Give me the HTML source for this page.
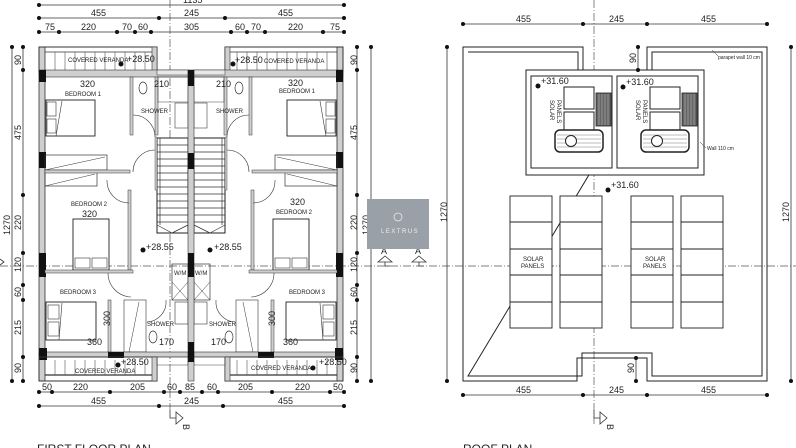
<!DOCTYPE html>
<html><head><meta charset="utf-8"><style>
html,body{margin:0;padding:0;background:#fff;width:796px;height:448px;overflow:hidden}
svg{display:block}
text{font-family:"Liberation Sans",sans-serif;fill:#222}
.d{font-size:9px}
.s{font-size:6px;fill:#3a4a8a}
</style></head><body>
<svg width="796" height="448" viewBox="0 0 796 448" xmlns="http://www.w3.org/2000/svg">
<defs>
<g id="half">
  <!-- outer wall -->
  <rect x="39" y="47" width="6" height="334" fill="#cfcfcf" stroke="#333" stroke-width="0.8"/>
  <!-- top veranda -->
  <rect x="39" y="47" width="118" height="25" fill="none" stroke="#333" stroke-width="1"/>
  <rect x="152" y="47" width="5" height="25" fill="#cfcfcf" stroke="#333" stroke-width="0.6"/>
  <line x1="45" y1="52" x2="152" y2="52" stroke="#333" stroke-width="0.8"/>
  <g stroke="#555" stroke-width="0.6">
    <line x1="55" y1="52" x2="55" y2="70"/><line x1="65" y1="52" x2="65" y2="70"/><line x1="75" y1="52" x2="75" y2="70"/><line x1="85" y1="52" x2="85" y2="70"/><line x1="95" y1="52" x2="95" y2="70"/><line x1="105" y1="52" x2="105" y2="70"/><line x1="115" y1="52" x2="115" y2="70"/><line x1="125" y1="52" x2="125" y2="70"/><line x1="135" y1="52" x2="135" y2="70"/><line x1="145" y1="52" x2="145" y2="70"/>
  </g>
  <!-- wall under veranda -->
  <rect x="39" y="70" width="149" height="7" fill="#cfcfcf" stroke="#333" stroke-width="0.6"/>
  <rect x="39" y="70" width="7" height="12" fill="#111"/>
  <rect x="157" y="70" width="31" height="5" fill="#e8e8e8" stroke="#333" stroke-width="0.5"/>
  <!-- shower/wc -->
  <rect x="130" y="77" width="3" height="58" fill="#cfcfcf" stroke="#333" stroke-width="0.5"/>
  <rect x="155" y="77" width="3" height="58" fill="#cfcfcf" stroke="#333" stroke-width="0.5"/>
  <ellipse cx="143" cy="88" rx="4" ry="6" fill="#fff" stroke="#333" stroke-width="0.7"/>
  <rect x="158" y="77" width="30" height="25" fill="none" stroke="#444" stroke-width="0.5"/>
  <rect x="175" y="103" width="13" height="25" fill="none" stroke="#444" stroke-width="0.6"/>
  <path d="M133 115 A22 22 0 0 1 155 137" fill="none" stroke="#333" stroke-width="0.6"/>
  <!-- bed 1 -->
  <rect x="46" y="100" width="49" height="36" fill="#fff" stroke="#222" stroke-width="0.9"/>
  <rect x="47" y="102" width="9" height="14" fill="none" stroke="#333" stroke-width="0.6"/>
  <rect x="47" y="119" width="9" height="14" fill="none" stroke="#333" stroke-width="0.6"/>
  <line x1="56" y1="136" x2="62" y2="101" stroke="#333" stroke-width="0.6"/>
  <!-- stairs -->
  <rect x="157" y="138" width="31" height="95" fill="#fff" stroke="#222" stroke-width="1"/>
  <g stroke="#333" stroke-width="0.7">
    <line x1="157" y1="145" x2="188" y2="145"/><line x1="157" y1="152" x2="188" y2="152"/><line x1="157" y1="159" x2="188" y2="159"/><line x1="157" y1="166" x2="188" y2="166"/><line x1="157" y1="173" x2="188" y2="173"/><line x1="157" y1="180" x2="188" y2="180"/><line x1="157" y1="187" x2="188" y2="187"/><line x1="157" y1="194" x2="188" y2="194"/><line x1="157" y1="201" x2="188" y2="201"/><line x1="157" y1="208" x2="188" y2="208"/><line x1="157" y1="215" x2="188" y2="215"/><line x1="157" y1="222" x2="188" y2="222"/>
    <line x1="160" y1="138" x2="160" y2="225"/><line x1="157" y1="225" x2="172" y2="233"/><line x1="172" y1="233" x2="188" y2="225"/>
  </g>
  <path d="M155 150 A22 22 0 0 0 133 172" fill="none" stroke="#333" stroke-width="0.6"/>
  <rect x="155" y="137" width="2" height="53" fill="#cfcfcf" stroke="#333" stroke-width="0.4"/>
  <!-- wardrobes -->
  <rect x="39" y="152" width="7" height="16" fill="#111"/>
  <rect x="45" y="155" width="62" height="15" fill="none" stroke="#333" stroke-width="0.7"/>
  <rect x="45" y="172" width="52" height="14" fill="none" stroke="#333" stroke-width="0.7"/>
  <line x1="45" y1="170" x2="105" y2="157" stroke="#333" stroke-width="0.5"/>
  <line x1="45" y1="186" x2="95" y2="174" stroke="#333" stroke-width="0.5"/>
  <rect x="45" y="170" width="85" height="3" fill="#cfcfcf" stroke="#333" stroke-width="0.5"/>
  <rect x="128" y="190" width="3" height="80" fill="#cfcfcf" stroke="#333" stroke-width="0.5"/>
  <path d="M107 180 A22 22 0 0 0 129 203" fill="none" stroke="#333" stroke-width="0.6"/>
  <!-- bed 2 -->
  <rect x="73" y="219" width="36" height="51" fill="#fff" stroke="#222" stroke-width="0.9"/>
  <rect x="75" y="258" width="15" height="10" fill="none" stroke="#333" stroke-width="0.6"/>
  <rect x="92" y="258" width="15" height="10" fill="none" stroke="#333" stroke-width="0.6"/>
  <line x1="39" y1="218" x2="39" y2="218"/>
  <rect x="39" y="253" width="7" height="24" fill="#111"/>
  <rect x="45" y="270" width="88" height="3" fill="#cfcfcf" stroke="#333" stroke-width="0.5"/>
  <path d="M108 273 A24 24 0 0 0 131 297" fill="none" stroke="#333" stroke-width="0.6"/>
  <!-- WM block -->
  <rect x="172" y="264" width="16" height="36" fill="none" stroke="#333" stroke-width="0.7"/>
  <line x1="172" y1="282" x2="188" y2="300" stroke="#333" stroke-width="0.5"/>
  <line x1="172" y1="300" x2="188" y2="282" stroke="#333" stroke-width="0.5"/>
  <rect x="175" y="302" width="13" height="22" fill="none" stroke="#333" stroke-width="0.6"/>
  <!-- bedroom 3 -->
  <rect x="108" y="300" width="3" height="52" fill="#cfcfcf" stroke="#333" stroke-width="0.5"/>
  <rect x="124" y="300" width="22" height="52" fill="none" stroke="#333" stroke-width="0.6"/>
  <line x1="129" y1="352" x2="139" y2="302" stroke="#333" stroke-width="0.5"/>
  <path d="M166 300 A20 20 0 0 1 147 322" fill="none" stroke="#333" stroke-width="0.6"/>
  <ellipse cx="153" cy="337" rx="4" ry="6" fill="#fff" stroke="#333" stroke-width="0.7"/>
  <rect x="46" y="302" width="50" height="38" fill="#fff" stroke="#222" stroke-width="0.9"/>
  <rect x="48" y="305" width="11" height="14" fill="none" stroke="#333" stroke-width="0.6"/>
  <rect x="48" y="322" width="11" height="14" fill="none" stroke="#333" stroke-width="0.6"/>
  <line x1="59" y1="340" x2="62" y2="303" stroke="#333" stroke-width="0.6"/>
  <!-- bottom wall + veranda -->
  <rect x="39" y="352" width="149" height="5" fill="#cfcfcf" stroke="#333" stroke-width="0.6"/>
  <rect x="39" y="348" width="8" height="12" fill="#111"/>
  <rect x="108" y="352" width="16" height="6" fill="#111"/>
  <rect x="39" y="357" width="118" height="24" fill="none" stroke="#333" stroke-width="1"/>
  <rect x="152" y="357" width="5" height="24" fill="#cfcfcf" stroke="#333" stroke-width="0.6"/>
  <line x1="45" y1="375" x2="152" y2="375" stroke="#333" stroke-width="1.2"/>
  <g stroke="#555" stroke-width="0.6">
    <line x1="55" y1="360" x2="55" y2="375"/><line x1="65" y1="360" x2="65" y2="375"/><line x1="75" y1="360" x2="75" y2="375"/><line x1="85" y1="360" x2="85" y2="375"/><line x1="95" y1="360" x2="95" y2="375"/><line x1="105" y1="360" x2="105" y2="375"/><line x1="115" y1="360" x2="115" y2="375"/><line x1="125" y1="360" x2="125" y2="375"/><line x1="135" y1="360" x2="135" y2="375"/><line x1="145" y1="360" x2="145" y2="375"/>
  </g>
  <rect x="157" y="357" width="31" height="8" fill="none" stroke="#444" stroke-width="0.5"/>
</g>
<g id="sol">
  <rect x="564" y="87" width="30" height="22" fill="#fff" stroke="#222" stroke-width="1"/>
  <rect x="564" y="112" width="30" height="19" fill="#fff" stroke="#222" stroke-width="1"/>
  <rect x="596" y="93" width="15" height="33" fill="#666" stroke="#222" stroke-width="0.8"/>
  <g stroke="#ddd" stroke-width="0.4"><line x1="599" y1="94" x2="599" y2="125"/><line x1="602" y1="94" x2="602" y2="125"/><line x1="605" y1="94" x2="605" y2="125"/><line x1="608" y1="94" x2="608" y2="125"/></g>
  <rect x="555" y="130" width="48" height="22" rx="5" fill="#fff" stroke="#222" stroke-width="1.5"/>
  <g stroke="#555" stroke-width="0.4"><line x1="557" y1="135" x2="601" y2="135"/><line x1="557" y1="139" x2="601" y2="139"/><line x1="557" y1="143" x2="601" y2="143"/><line x1="557" y1="147" x2="601" y2="147"/></g>
  <circle cx="571" cy="141" r="5.5" fill="#fff" stroke="#222" stroke-width="1"/>
</g>
</defs>

<!-- center lines -->
<line x1="0" y1="266" x2="796" y2="266" stroke="#555" stroke-width="0.7" stroke-dasharray="8 2 1 2"/>
<line x1="170" y1="0" x2="170" y2="410" stroke="#555" stroke-width="0.7" stroke-dasharray="8 2 1 2"/>
<line x1="594" y1="0" x2="594" y2="425" stroke="#555" stroke-width="0.7" stroke-dasharray="8 2 1 2"/>

<!-- FIRST FLOOR -->
<use href="#half"/>
<use href="#half" transform="translate(382 0) scale(-1 1)"/>
<rect x="188" y="70" width="6" height="311" fill="#cfcfcf" stroke="#333" stroke-width="0.6"/>
<rect x="188" y="70" width="6" height="16" fill="#111"/>
<rect x="188" y="153" width="6" height="16" fill="#111"/>
<rect x="188" y="253" width="6" height="24" fill="#111"/>
<rect x="188" y="342" width="6" height="20" fill="#111"/>

<!-- labels FF -->
<g class="s">
<text x="68" y="62">COVERED VERANDA</text><text x="264" y="63">COVERED VERANDA</text>
<text x="65" y="96">BEDROOM 1</text><text x="279" y="93">BEDROOM 1</text>
<text x="141" y="113">SHOWER</text><text x="216" y="113">SHOWER</text>
<text x="71" y="206">BEDROOM 2</text><text x="276" y="214">BEDROOM 2</text>
<text x="60" y="294">BEDROOM 3</text><text x="289" y="294">BEDROOM 3</text>
<text x="147" y="326">SHOWER</text><text x="209" y="326">SHOWER</text>
<text x="174" y="275">W/M</text><text x="195" y="275">W/M</text>
<text x="75" y="373">COVERED VERANDA</text><text x="251" y="370">COVERED VERANDA</text>
</g>
<g class="d">
<text x="80" y="87">320</text><text x="154" y="87">210</text><text x="216" y="87">210</text><text x="288" y="86">320</text>
<text x="82" y="217">320</text><text x="290" y="205">320</text>
<text x="87" y="345">360</text><text x="159" y="345">170</text><text x="211" y="345">170</text><text x="283" y="345">360</text>
<text x="127" y="62">+28.50</text><text x="235" y="63">+28.50</text>
<text x="146" y="250">+28.55</text><text x="214" y="250">+28.55</text>
<text x="121" y="365">+28.50</text><text x="319" y="365">+28.50</text>
<text x="101" y="317" transform="rotate(-90 110 317)">300</text>
<text x="266" y="317" transform="rotate(-90 275 317)">300</text>
</g>
<g fill="#111"><circle cx="121" cy="64" r="2.5"/><circle cx="233" cy="64" r="2.5"/><circle cx="143" cy="250" r="2.5"/><circle cx="210" cy="250" r="2.5"/><circle cx="118" cy="365" r="2.5"/><circle cx="313" cy="368" r="2.5"/></g>

<!-- FF dims top -->
<g stroke="#333" stroke-width="0.8">
<line x1="39" y1="5" x2="344" y2="5"/><line x1="39" y1="18" x2="344" y2="18"/><line x1="39" y1="32" x2="344" y2="32"/>
<line x1="39" y1="392" x2="344" y2="392"/><line x1="39" y1="406" x2="344" y2="406"/>
<line x1="12" y1="47" x2="12" y2="381"/><line x1="23" y1="47" x2="23" y2="381"/>
<line x1="357" y1="47" x2="357" y2="381"/><line x1="371" y1="47" x2="371" y2="381"/>
</g>
<g fill="#111">
<circle cx="39" cy="5" r="2"/><circle cx="344" cy="5" r="2"/>
<circle cx="39" cy="18" r="2"/><circle cx="159" cy="18" r="2"/><circle cx="225" cy="18" r="2"/><circle cx="344" cy="18" r="2"/>
<circle cx="39" cy="32" r="2"/><circle cx="59" cy="32" r="2"/><circle cx="117" cy="32" r="2"/><circle cx="135" cy="32" r="2"/><circle cx="151" cy="32" r="2"/><circle cx="231" cy="32" r="2"/><circle cx="247" cy="32" r="2"/><circle cx="265" cy="32" r="2"/><circle cx="323" cy="32" r="2"/><circle cx="344" cy="32" r="2"/>
<circle cx="39" cy="392" r="2"/><circle cx="52" cy="392" r="2"/><circle cx="110" cy="392" r="2"/><circle cx="164" cy="392" r="2"/><circle cx="180" cy="392" r="2"/><circle cx="202" cy="392" r="2"/><circle cx="218" cy="392" r="2"/><circle cx="272" cy="392" r="2"/><circle cx="330" cy="392" r="2"/><circle cx="344" cy="392" r="2"/>
<circle cx="39" cy="406" r="2"/><circle cx="159" cy="406" r="2"/><circle cx="223" cy="406" r="2"/><circle cx="344" cy="406" r="2"/>
<circle cx="12" cy="47" r="2"/><circle cx="12" cy="381" r="2"/><circle cx="23" cy="47" r="2"/><circle cx="23" cy="70" r="2"/><circle cx="23" cy="195" r="2"/><circle cx="23" cy="253" r="2"/><circle cx="23" cy="285" r="2"/><circle cx="23" cy="300" r="2"/><circle cx="23" cy="357" r="2"/><circle cx="23" cy="381" r="2"/>
<circle cx="357" cy="47" r="2"/><circle cx="357" cy="70" r="2"/><circle cx="357" cy="195" r="2"/><circle cx="357" cy="253" r="2"/><circle cx="357" cy="285" r="2"/><circle cx="357" cy="300" r="2"/><circle cx="357" cy="357" r="2"/><circle cx="357" cy="381" r="2"/>
<circle cx="371" cy="47" r="2"/><circle cx="371" cy="381" r="2"/>
</g>
<g class="d">
<text x="183" y="3">1135</text>
<text x="91" y="16">455</text><text x="184" y="16">245</text><text x="278" y="16">455</text>
<text x="45" y="30">75</text><text x="81" y="30">220</text><text x="122" y="30">70</text><text x="138" y="30">60</text><text x="184" y="30">305</text><text x="235" y="30">60</text><text x="251" y="30">70</text><text x="288" y="30">220</text><text x="330" y="30">75</text>
<text x="42" y="390">50</text><text x="73" y="390">220</text><text x="130" y="390">205</text><text x="167" y="390">60</text><text x="185" y="390">85</text><text x="207" y="390">60</text><text x="238" y="390">205</text><text x="295" y="390">220</text><text x="333" y="390">50</text>
<text x="91" y="404">455</text><text x="184" y="404">245</text><text x="278" y="404">455</text>
<g transform="rotate(-90)">
<text x="-235" y="10">1270</text><text x="-65" y="21">90</text><text x="-140" y="21">475</text><text x="-230" y="21">220</text><text x="-272" y="21">120</text><text x="-297" y="21">60</text><text x="-335" y="21">215</text><text x="-373" y="21">90</text>
<text x="-65" y="357">90</text><text x="-140" y="357">475</text><text x="-230" y="357">220</text><text x="-272" y="357">120</text><text x="-297" y="357">60</text><text x="-335" y="357">215</text><text x="-373" y="357">90</text><text x="-235" y="369">1270</text>
</g>
</g>
<!-- section markers -->
<path d="M170 410 L170 418 L176 418 L176 412 L183 418 L176 424 L176 418" fill="#fff" stroke="#333" stroke-width="0.8"/>
<text x="187" y="428" class="d" transform="rotate(90 187 424)">B</text>
<path d="M594 410 L594 418 L600 418 L600 412 L607 418 L600 424 L600 418" fill="#fff" stroke="#333" stroke-width="0.8"/>
<text x="611" y="428" class="d" transform="rotate(90 611 424)">B</text>
<path d="M378 262 L385 256 L392 262 Z M385 262 L385 266 L390 266" fill="#fff" stroke="#333" stroke-width="0.8"/>
<text x="381" y="254" class="d">A</text>
<path d="M412 262 L419 256 L426 262 Z M419 262 L419 266 L424 266" fill="#fff" stroke="#333" stroke-width="0.8"/>
<text x="415" y="254" class="d">A</text>
<path d="M0 259 L4 262 L0 265" fill="none" stroke="#333" stroke-width="0.8"/>

<text x="37" y="453" style="font-size:12px">FIRST FLOOR PLAN</text>
<text x="463" y="453" style="font-size:12px">ROOF PLAN</text>

<!-- ROOF -->
<path d="M463 47 L583 47 L583 70 L647 70 L647 47 L767 47 L767 381 L647 381 L647 358 L577 358 L577 381 L463 381 Z" fill="none" stroke="#222" stroke-width="1"/>
<path d="M468 52 L578 52 L578 70 M652 70 L652 52 L762 52 L762 376 L652 376 L652 353 L582 353 L582 376 L468 376 Z" fill="none" stroke="#222" stroke-width="1"/>
<rect x="526" y="70" width="178" height="105" fill="#fff" stroke="#222" stroke-width="1"/>
<rect x="531" y="76" width="81" height="92" fill="none" stroke="#222" stroke-width="1"/>
<rect x="617" y="76" width="81" height="92" fill="none" stroke="#222" stroke-width="1"/>
<use href="#sol"/>
<use href="#sol" transform="translate(86 0)"/>
<g class="s"><text transform="translate(550 100) rotate(90)">SOLAR</text><text transform="translate(557 100) rotate(90)" x="0" y="0">PANELS</text></g>
<g class="s"><text transform="translate(636 100) rotate(90)">SOLAR</text><text transform="translate(643 100) rotate(90)">PANELS</text></g>
<g class="d">
<text x="541" y="84">+31.60</text><text x="626" y="85">+31.60</text><text x="611" y="188">+31.60</text>
</g>
<g fill="#111"><circle cx="538" cy="86" r="2.5"/><circle cx="623" cy="87" r="2.5"/><circle cx="608" cy="190" r="2.5"/></g>
<text x="718" y="59" style="font-size:5px">parapet wall 10 cm</text>
<line x1="712" y1="50" x2="718" y2="56" stroke="#333" stroke-width="0.5"/>
<text x="707" y="150" style="font-size:5px">Wall 110 cm</text>
<line x1="700" y1="142" x2="706" y2="148" stroke="#333" stroke-width="0.5"/>
<!-- panels -->
<g fill="#fff" stroke="#222" stroke-width="0.9">
<rect x="510" y="196" width="42" height="132"/><rect x="560" y="196" width="42" height="132"/>
<rect x="631" y="196" width="42" height="132"/><rect x="681" y="196" width="42" height="132"/>
</g>
<g stroke="#222" stroke-width="0.9">
<line x1="510" y1="222" x2="552" y2="222"/><line x1="510" y1="249" x2="552" y2="249"/><line x1="510" y1="275" x2="552" y2="275"/><line x1="510" y1="302" x2="552" y2="302"/>
<line x1="560" y1="222" x2="602" y2="222"/><line x1="560" y1="249" x2="602" y2="249"/><line x1="560" y1="275" x2="602" y2="275"/><line x1="560" y1="302" x2="602" y2="302"/>
<line x1="631" y1="222" x2="673" y2="222"/><line x1="631" y1="249" x2="673" y2="249"/><line x1="631" y1="275" x2="673" y2="275"/><line x1="631" y1="302" x2="673" y2="302"/>
<line x1="681" y1="222" x2="723" y2="222"/><line x1="681" y1="249" x2="723" y2="249"/><line x1="681" y1="275" x2="723" y2="275"/><line x1="681" y1="302" x2="723" y2="302"/>
</g>
<g class="s"><text x="523" y="261">SOLAR</text><text x="521" y="268">PANELS</text><text x="645" y="261">SOLAR</text><text x="643" y="268">PANELS</text></g>
<!-- roof dims -->
<g stroke="#333" stroke-width="0.8">
<line x1="463" y1="24" x2="767" y2="24"/><line x1="463" y1="395" x2="767" y2="395"/>
<line x1="447" y1="47" x2="447" y2="381"/><line x1="791" y1="47" x2="791" y2="381"/>
<line x1="638" y1="47" x2="638" y2="70"/><line x1="636" y1="358" x2="636" y2="381"/>
</g>
<g fill="#111">
<circle cx="463" cy="24" r="2"/><circle cx="583" cy="24" r="2"/><circle cx="647" cy="24" r="2"/><circle cx="767" cy="24" r="2"/>
<circle cx="463" cy="395" r="2"/><circle cx="583" cy="395" r="2"/><circle cx="647" cy="395" r="2"/><circle cx="767" cy="395" r="2"/>
<circle cx="447" cy="47" r="2"/><circle cx="447" cy="381" r="2"/><circle cx="791" cy="47" r="2"/><circle cx="791" cy="381" r="2"/>
<circle cx="638" cy="47" r="2"/><circle cx="638" cy="70" r="2"/><circle cx="636" cy="358" r="2"/><circle cx="636" cy="381" r="2"/>
</g>
<g class="d">
<text x="516" y="22">455</text><text x="609" y="22">245</text><text x="701" y="22">455</text>
<text x="516" y="393">455</text><text x="609" y="393">245</text><text x="701" y="393">455</text>
<g transform="rotate(-90)"><text x="-222" y="447">1270</text><text x="-222" y="789">1270</text><text x="-63" y="636">90</text><text x="-373" y="634">90</text></g>
</g>

<!-- watermark -->
<rect x="367" y="199" width="62" height="50" fill="#9aa0a8"/>
<circle cx="398" cy="217" r="4" fill="none" stroke="#e8e8e8" stroke-width="0.8"/>
<text x="381" y="233" style="font-size:6px;fill:#f0f0f0;letter-spacing:1.5px">LEXTRUS</text>
</svg>
</body></html>
